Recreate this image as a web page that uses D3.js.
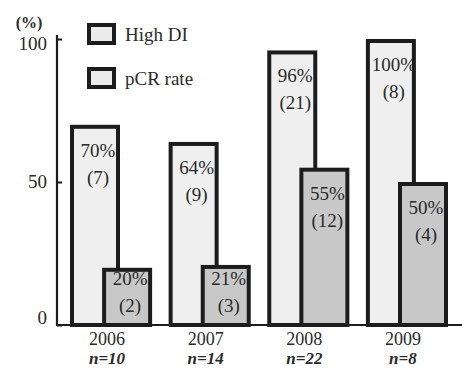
<!DOCTYPE html>
<html>
<head>
<meta charset="utf-8">
<script src="https://cdn.jsdelivr.net/npm/d3@7/dist/d3.min.js"></script>
<style>
  html, body { margin: 0; padding: 0; background: #fff; }
  svg { display: block; }
</style>
</head>
<body>
<svg id="chart" width="462" height="370"></svg>
<script>
// Data
const years = ["2006", "2007", "2008", "2009"];
const sampleSizes = ["n=10", "n=14", "n=22", "n=8"];
const highDI = [70, 64, 96, 100];
const highDICounts = [7, 9, 21, 8];
const pcrRate = [20, 21, 55, 50];
const pcrCounts = [2, 3, 12, 4];
const seriesNames = ["High DI", "pCR rate"];
const yTicks = [0, 50, 100];

const svg = d3.select("#chart")
  .attr("font-family", "'Liberation Serif', 'Times New Roman', 'DejaVu Serif', serif");
const textCol = "#2a2a2a";
const axisX = 57, baseY = 325;

const y = d3.scaleLinear().domain([0, 100]).range([baseY, 39]);
const x = d3.scaleBand().domain(years).range([70, 448]).paddingInner(0.1675).paddingOuter(0);

const fills = ["#efefef", "#c8c8c8"];
const strokeCol = "#1c1c1c";
const sw = 4;
const barW = 50;

// Bars: High DI first, pCR rate drawn over it, offset to the right
const series = [
  { vals: highDI, counts: highDICounts, off: 0, fill: fills[0] },
  { vals: pcrRate, counts: pcrCounts, off: x.bandwidth() - barW, fill: fills[1] }
];

series.forEach(s => {
  const g = svg.append("g");
  years.forEach((yr, i) => {
    const x0 = x(yr) + s.off;
    const top = y(s.vals[i]);
    g.append("rect")
      .attr("x", x0 + sw / 2)
      .attr("y", top + sw / 2)
      .attr("width", barW - sw)
      .attr("height", baseY - top - sw / 2)
      .attr("fill", s.fill)
      .attr("stroke", strokeCol)
      .attr("stroke-width", sw);
    const cx = x0 + barW / 2 + 3;
    const pctY = Math.min(top + 32, baseY - 40);
    g.append("text")
      .attr("x", cx).attr("y", pctY)
      .attr("text-anchor", "middle")
      .attr("font-size", 19)
      .attr("fill", textCol)
      .text(s.vals[i] + "%");
    g.append("text")
      .attr("x", cx).attr("y", pctY + 27)
      .attr("text-anchor", "middle")
      .attr("font-size", 19)
      .attr("fill", textCol)
      .text("(" + s.counts[i] + ")");
  });
});

// Axes
const yAxis = d3.axisRight(y).tickValues(yTicks).tickSize(5).tickFormat("");
const ya = svg.append("g").attr("transform", `translate(${axisX},0)`).call(yAxis);
ya.select(".domain").remove();
ya.selectAll(".tick line").attr("stroke", strokeCol).attr("stroke-width", 2);

svg.append("line")
  .attr("x1", axisX).attr("x2", axisX)
  .attr("y1", 35).attr("y2", baseY + 1)
  .attr("stroke", strokeCol).attr("stroke-width", 2.2);
svg.append("line")
  .attr("x1", axisX - 1).attr("x2", 462)
  .attr("y1", baseY).attr("y2", baseY)
  .attr("stroke", strokeCol).attr("stroke-width", 2.2);

svg.append("g").selectAll("text").data(yTicks).join("text")
  .attr("x", 47)
  .attr("y", d => y(d) + (d === 100 ? 11 : d === 0 ? -1 : 6))
  .attr("text-anchor", "end")
  .attr("font-size", 19)
  .attr("fill", textCol)
  .text(d => d);

svg.append("text")
  .attr("x", 29).attr("y", 28)
  .attr("text-anchor", "middle")
  .attr("font-size", 16)
  .attr("font-weight", "bold")
  .attr("fill", textCol)
  .text("(%)");

// Category labels
const xl = svg.append("g");
years.forEach((yr, i) => {
  const cx = x(yr) + x.bandwidth() / 2 - 4;
  xl.append("text")
    .attr("x", cx).attr("y", 345)
    .attr("text-anchor", "middle")
    .attr("font-size", 18)
    .attr("fill", textCol)
    .text(yr);
  xl.append("text")
    .attr("x", cx).attr("y", 364)
    .attr("text-anchor", "middle")
    .attr("font-size", 17)
    .attr("font-style", "italic")
    .attr("font-weight", "bold")
    .attr("fill", textCol)
    .text(sampleSizes[i]);
});

// Legend
const legend = svg.append("g");
seriesNames.forEach((name, i) => {
  const ly = 23 + i * 44;
  legend.append("rect")
    .attr("x", 87 + sw / 2).attr("y", ly + sw / 2)
    .attr("width", 29 - sw).attr("height", 22 - sw)
    .attr("fill", "#ececec")
    .attr("stroke", strokeCol).attr("stroke-width", sw);
  legend.append("text")
    .attr("x", 125).attr("y", ly + 18)
    .attr("font-size", 19)
    .attr("fill", textCol)
    .text(name);
});
</script>
</body>
</html>
